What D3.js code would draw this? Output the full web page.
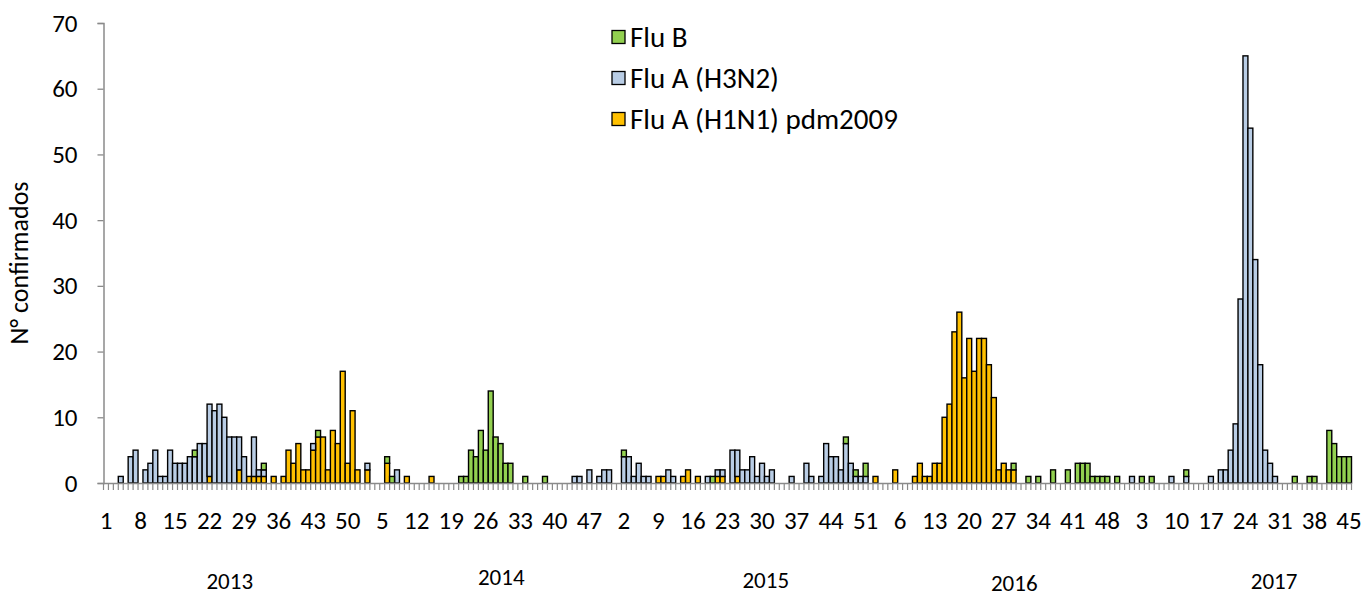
<!DOCTYPE html>
<html>
<head>
<meta charset="utf-8">
<script src="https://cdn.jsdelivr.net/npm/d3@7"></script>
<style>
  body { margin: 0; background: #fff; }
  text { font-family: Carlito, Lato, "Liberation Sans", sans-serif; fill: #000; }
</style>
</head>
<body>
<div id="chart"></div>
<script>
var svgWidth = 1364;
var svgHeight = 596;

var margin = { top: 23, right: 12.5, bottom: 113, left: 103.5 };
var width = svgWidth - margin.left - margin.right;
var height = svgHeight - margin.top - margin.bottom;

// epidemiological weeks shown for each year (2017 stops at week 45)
var years = [2013, 2014, 2015, 2016, 2017];
var weeksInYear = [52, 52, 52, 52, 45];

// confirmed cases per week, one row per year
var fluAH1N1 = [
  0,0,0,0,0,0,0,0,0,0, 0,0,0,0,0,0,0,0,0,0, 0,1,0,0,0,0,0,2,0,1, 1,1,1,0,1,0,1,5,3,6, 2,2,5,7,7,2,8,6,17,3, 11,2,
  0,2,0,0,0,3,0,0,0,1, 0,0,0,0,1,0,0,0,0,0, 0,0,0,0,0,0,0,0,0,0, 0,0,0,0,0,0,0,0,0,0, 0,0,0,0,0,0,0,0,0,0, 0,0,
  0,0,0,0,0,0,0,0,1,1, 0,0,0,1,2,0,1,0,0,0, 1,1,0,0,1,0,0,0,0,0, 0,0,0,0,0,0,0,0,0,0, 0,0,0,0,0,0,0,0,0,0, 0,0,
  1,0,0,0,2,0,0,0,1,3, 1,1,3,3,10,12,23,26,16,22, 17,22,22,18,13,2,3,2,2,0, 0,0,0,0,0,0,0,0,0,0, 0,0,0,0,0,0,0,0,0,0, 0,0,
  0,0,0,0,0,0,0,0,0,0, 0,0,0,0,0,0,0,0,0,0, 0,0,0,0,0,0,0,0,0,0, 0,0,0,0,0,0,0,0,0,0, 0,0,0,0,0
];

var fluAH3N2 = [
  0,0,0,1,0,4,5,0,2,3, 5,1,1,5,3,3,3,4,4,6, 6,11,11,12,10,7,7,5,4,0, 6,1,1,0,0,0,0,0,0,0, 0,0,1,0,0,0,0,0,0,0, 0,0,
  0,1,0,0,0,0,0,2,0,0, 0,0,0,0,0,0,0,0,0,0, 0,0,0,0,0,0,0,0,0,0, 0,0,0,0,0,0,0,0,0,0, 0,0,0,1,1,0,2,0,1,2, 2,0,
  0,4,4,1,3,1,1,0,0,0, 2,1,0,0,0,0,0,0,1,0, 1,1,0,5,4,2,2,4,1,3, 1,2,0,0,0,1,0,0,3,1, 0,1,6,4,4,2,6,3,1,1, 1,0,
  0,0,0,0,0,0,0,0,0,0, 0,0,0,0,0,0,0,0,0,0, 0,0,0,0,0,0,0,0,0,0, 0,0,0,0,0,0,0,0,0,0, 0,0,0,0,0,0,0,0,0,0, 0,0,
  1,0,0,0,0,0,0,0,1,0, 0,1,0,0,0,0,1,0,2,2, 5,9,28,65,54,34,18,5,3,1, 0,0,0,0,0,0,0,0,0,0, 0,0,0,0,0
];

var fluB = [
  0,0,0,0,0,0,0,0,0,0, 0,0,0,0,0,0,0,0,1,0, 0,0,0,0,0,0,0,0,0,0, 0,0,1,0,0,0,0,0,0,0, 0,0,0,1,0,0,0,0,0,0, 0,0,
  0,0,0,0,0,1,1,0,0,0, 0,0,0,0,0,0,0,0,0,0, 1,1,5,4,8,5,14,7,6,3, 3,0,0,1,0,0,0,1,0,0, 0,0,0,0,0,0,0,0,0,0, 0,0,
  0,1,0,0,0,0,0,0,0,0, 0,0,0,0,0,0,0,0,0,1, 0,0,0,0,0,0,0,0,0,0, 0,0,0,0,0,0,0,0,0,0, 0,0,0,0,0,0,1,0,1,0, 2,0,
  0,0,0,0,0,0,0,0,0,0, 0,0,0,0,0,0,0,0,0,0, 0,0,0,0,0,0,0,0,1,0, 0,1,0,1,0,0,2,0,0,2, 0,3,3,3,1,1,1,1,0,1, 0,0,
  0,0,1,0,1,0,0,0,0,0, 0,1,0,0,0,0,0,0,0,0, 0,0,0,0,0,0,0,0,0,0, 0,0,0,1,0,0,1,1,0,0, 8,6,4,4,4
];

var seriesKeys = ["h1n1", "h3n2", "flub"];
var seriesNames = { h1n1: "Flu A (H1N1) pdm2009", h3n2: "Flu A (H3N2)", flub: "Flu B" };
var seriesColors = { h1n1: "#FFC000", h3n2: "#B9CDE5", flub: "#92D050" };
var yTicks = [0, 10, 20, 30, 40, 50, 60, 70];

// build one row per week
var rows = [];
years.forEach(function(year, yi) {
  for (var w = 1; w <= weeksInYear[yi]; w++) {
    var i = rows.length;
    rows.push({
      key: year + "-" + w,
      year: year,
      week: w,
      h1n1: fluAH1N1[i],
      h3n2: fluAH3N2[i],
      flub: fluB[i]
    });
  }
});

var svg = d3.select("#chart")
  .append("svg")
  .attr("width", svgWidth)
  .attr("height", svgHeight)
  .style("background", "#fff");

var xBand = d3.scaleBand()
  .domain(rows.map(d => d.key))
  .range([margin.left, margin.left + width])
  .padding(0);

var yLinear = d3.scaleLinear()
  .domain([0, 70])
  .range([margin.top + height, margin.top]);

var stacked = d3.stack().keys(seriesKeys)(rows);

// bars
svg.append("g")
  .selectAll("g")
  .data(stacked)
  .enter()
  .append("g")
  .attr("fill", d => seriesColors[d.key])
  .selectAll("rect")
  .data(d => d.filter(s => s[1] > s[0]))
  .enter()
  .append("rect")
  .attr("x", d => xBand(d.data.key))
  .attr("y", d => yLinear(d[1]))
  .attr("width", xBand.bandwidth())
  .attr("height", d => yLinear(d[0]) - yLinear(d[1]))
  .attr("stroke", "#000")
  .attr("stroke-width", 1.4);

var axisColor = "#8a8a8a";
var baseY = yLinear(0);

// y axis
var yAxis = svg.append("g")
  .attr("transform", `translate(${margin.left}, 0)`)
  .call(d3.axisLeft(yLinear).tickValues(yTicks).tickSize(6).tickPadding(20));
yAxis.select(".domain").attr("stroke", axisColor).attr("stroke-width", 1.5);
yAxis.selectAll(".tick line").attr("stroke", axisColor).attr("stroke-width", 1.3);
yAxis.selectAll(".tick text")
  .attr("font-size", 25)
  .attr("font-family", "Carlito, Lato, sans-serif")
  .attr("fill", "#000");

// x axis: tick marks between every week
var boundaries = rows.map(d => xBand(d.key)).concat([margin.left + width]);
svg.append("g")
  .selectAll("line")
  .data(boundaries)
  .enter()
  .append("line")
  .attr("x1", d => d)
  .attr("x2", d => d)
  .attr("y1", baseY)
  .attr("y2", baseY + 7)
  .attr("stroke", axisColor)
  .attr("stroke-width", 1.2);

var labelKeys = rows.filter((d, i) => i % 7 === 0).map(d => d.key);
var weekOf = {};
rows.forEach(d => { weekOf[d.key] = d.week; });

var xAxis = svg.append("g")
  .attr("transform", `translate(0, ${baseY})`)
  .call(d3.axisBottom(xBand).tickValues(labelKeys).tickFormat(k => weekOf[k]).tickSize(0).tickPadding(28));
xAxis.select(".domain").attr("stroke", axisColor).attr("stroke-width", 1.5);
xAxis.selectAll(".tick text")
  .attr("font-size", 25)
  .attr("font-family", "Carlito, Lato, sans-serif")
  .attr("fill", "#000");

// year labels under the weeks (hand placed in the original, slightly uneven)
var yearOffsets = [-2, 13, 21, 13, 36];
var yearY = [581, 577, 580, 583, 581];
years.forEach(function(year, yi) {
  var yearRows = rows.filter(d => d.year === year);
  var x0 = xBand(yearRows[0].key);
  var x1 = xBand(yearRows[yearRows.length - 1].key) + xBand.bandwidth();
  var cx = year === 2017 ? xBand(year + "-23") : (x0 + x1) / 2;
  svg.append("text")
    .attr("x", cx + yearOffsets[yi])
    .attr("y", yearY[yi])
    .attr("dy", "0.35em")
    .attr("text-anchor", "middle")
    .attr("font-size", 23)
    .text(year);
});

// y axis title
svg.append("text")
  .attr("transform", "translate(28, 263) rotate(-90)")
  .attr("text-anchor", "middle")
  .attr("font-size", 26)
  .text("N° confirmados");

// legend
var legendOrder = ["flub", "h3n2", "h1n1"];
var legend = svg.append("g")
  .attr("transform", "translate(612, 37)");
legendOrder.forEach(function(k, i) {
  var row = legend.append("g").attr("transform", `translate(0, ${i * 41})`);
  row.append("rect")
    .attr("x", 0)
    .attr("y", -6.5)
    .attr("width", 13)
    .attr("height", 13)
    .attr("fill", seriesColors[k])
    .attr("stroke", "#000")
    .attr("stroke-width", 1.3);
  row.append("text")
    .attr("x", 18)
    .attr("y", 0)
    .attr("dy", "0.35em")
    .attr("font-size", 29)
    .text(seriesNames[k]);
});
</script>
</body>
</html>
